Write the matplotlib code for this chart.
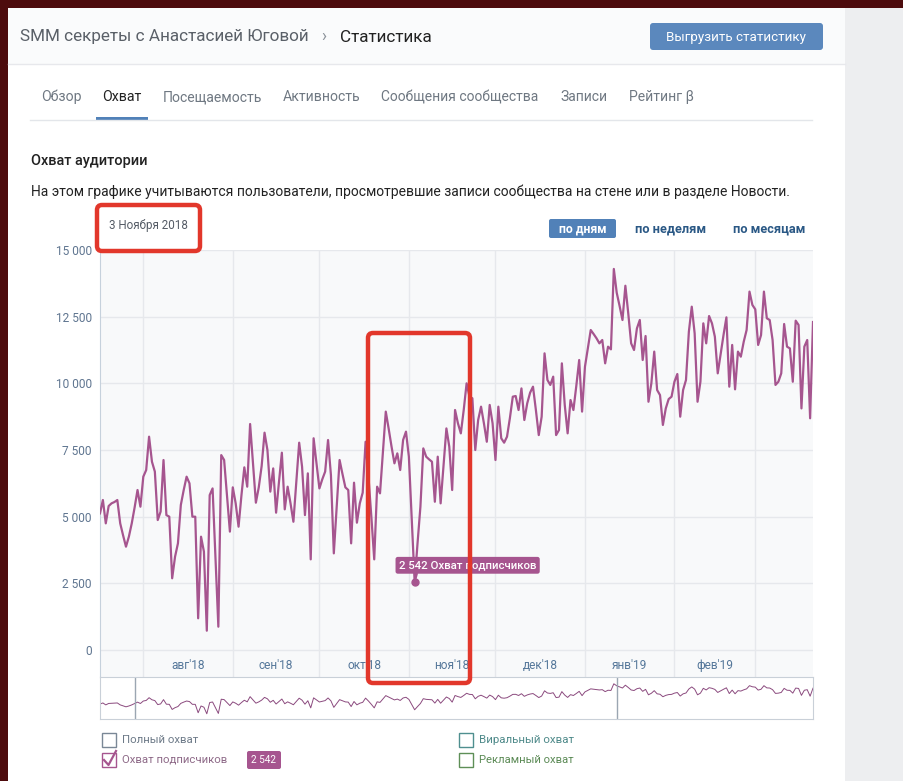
import pandas as pd
import matplotlib.pyplot as plt
from matplotlib.patches import Rectangle, FancyBboxPatch

plt.rcParams['font.family'] = ['Roboto', 'DejaVu Sans']

# охват подписчиков по дням, с 17.07.2018
start = '2018-07-17'
reach = [5125, 5625, 4750, 5400, 5500, 5550, 5625, 4750, 4300, 3875,
         4250, 4750, 5350, 6000, 5375, 6500, 6750, 8000, 7060, 6690,
         4875, 5190, 7125, 5060, 5000, 2690, 3500, 4000, 5440, 6000,
         6500, 6250, 5000, 5000, 1190, 4250, 3690, 725, 5810, 6060,
         3500, 875, 7310, 7125, 5800, 4440, 6100, 5500, 4625, 5800,
         6850, 6125, 8475, 7000, 5525, 6100, 6900, 8150, 7500, 5940,
         6810, 5150, 6300, 7400, 5275, 6125, 5500, 4810, 6300, 7775,
         6875, 5060, 6625, 3400, 7940, 7000, 6060, 6400, 6690, 7875,
         6560, 3625, 5400, 7125, 6600, 6100, 6000, 4000, 6275, 4775,
         5500, 5900, 7810, 6500, 5000, 3400, 6125, 5875, 7400, 8940,
         8300, 7625, 7000, 7375, 6750, 7875, 8190, 7250, 4900, 2542,
         4000, 5375, 7560, 7250, 7150, 7060, 5560, 7250, 5500, 6900,
         8310, 7625, 6000, 9000, 8500, 8125, 9000, 10000, 9500, 9440,
         7500, 8625, 9125, 8500, 7810, 9190, 8500, 7125, 9125, 7940,
         7775, 8000, 8700, 9500, 9525, 9000, 9810, 8625, 9250, 9650,
         9875, 9000, 8060, 8750, 11125, 10125, 9940, 10250, 8060, 8250,
         10750, 9190, 8125, 9375, 9000, 9900, 10875, 8940, 10625, 11300,
         12000, 11850, 11690, 11500, 11625, 10750, 11375, 11275, 14290, 13400,
         12900, 12375, 13660, 12625, 11500, 11250, 12060, 12375, 10875, 11775,
         9310, 10000, 11190, 9750, 9560, 8440, 9060, 9410, 9500, 10060,
         10350, 8750, 9750, 10125, 11940, 12875, 11875, 9310, 10060, 12250,
         11500, 12525, 12250, 11750, 10375, 11100, 11810, 12475, 9875, 11440,
         9775, 11190, 11000, 11560, 12000, 13440, 12940, 12775, 11440, 11810,
         13440, 12440, 12375, 11625, 9940, 10060, 10375, 12225, 11375, 11310,
         10060, 12350, 12190, 9060, 11375, 11625, 8690, 12300]
days = pd.date_range(start, periods=len(reach), freq='D')

y_ticks = [0, 2500, 5000, 7500, 10000, 12500, 15000]
y_labels = ['0', '2 500', '5 000', '7 500', '10 000', '12 500', '15 000']
month_starts = pd.date_range('2018-08-01', '2019-03-01', freq='MS')
month_labels = ["авг'18", "сен'18", "окт'18", "ноя'18", "дек'18", "янв'19", "фев'19"]
tabs = ['Обзор', 'Охват', 'Посещаемость', 'Активность', 'Сообщения сообщества', 'Записи', 'Рейтинг β']
legend_items = ['Полный охват', 'Охват подписчиков', 'Виральный охват', 'Рекламный охват']
marked_day = pd.Timestamp('2018-11-03')
window = (pd.Timestamp('2018-07-29'), pd.Timestamp('2019-01-12'))

purple = '#a6558f'
W, H = 904, 781
fig = plt.figure(figsize=(W / 100, H / 100), dpi=100, facecolor='#4d0b0d')
rend = fig.canvas.get_renderer()


def box(l, t, w, h):
    return [l / W, 1 - (t + h) / H, w / W, h / H]


page = fig.add_axes([0, 0, 1, 1])
page.set_xlim(0, W)
page.set_ylim(H, 0)
page.axis('off')


def txt(x, y, s, w, ha='left', **kw):
    t = page.text(x, y, s, ha=ha, va='center', fontsize=10, **kw)
    t.set_fontsize(10 * w / t.get_window_extent(rend).width)
    return t


# фон страницы
page.add_patch(Rectangle((8, 8), 837, 773, fc='white', lw=0))
page.add_patch(Rectangle((8, 8), 837, 56, fc='#fafbfc', lw=0))
page.plot([8, 845], [64, 64], color='#e7e8ec', lw=1)
page.add_patch(Rectangle((845, 8), 59, 773, fc='#edeef0', lw=0))

# шапка
txt(20, 37, 'SMM секреты с Анастасией Юговой', 290, color='#5a6068')
page.text(321, 37, '›', ha='left', va='center', fontsize=12, color='#8a9199')
txt(340, 37, 'Статистика', 92, color='#222222')
page.add_patch(FancyBboxPatch((650, 23), 173, 27, boxstyle='round,pad=0,rounding_size=3',
                              fc='#5b88bd', lw=0))
txt(736.5, 37, 'Выгрузить статистику', 140, ha='center', color='white')

# вкладки
tab_x = [41, 102, 163, 283, 381, 560, 629]
tab_w = [40, 39, 99, 77, 157, 47, 65]
for s, x, w in zip(tabs, tab_x, tab_w):
    txt(x, 97, s, w, color='#222222' if s == 'Охват' else '#6f7882')
page.plot([30, 812], [119.5, 119.5], color='#e3e6ea', lw=1)
page.add_patch(Rectangle((96, 117), 52, 2.5, fc='#5181b8', lw=0))

txt(31, 161, 'Охват аудитории', 117, color='#222222', weight='medium')
txt(31, 192, 'На этом графике учитываются пользователи, просмотревшие записи сообщества '
    'на стене или в разделе Новости.', 758, color='#222222')
txt(109, 226, '3 Ноября 2018', 79, color='#555c66')

page.add_patch(FancyBboxPatch((549, 219), 67, 19, boxstyle='round,pad=0,rounding_size=2',
                              fc='#5181b8', lw=0))
txt(582.5, 229, 'по дням', 48, ha='center', color='white', weight='bold')
txt(670.5, 229, 'по неделям', 71, ha='center', color='#2a5885', weight='bold')
txt(769, 229, 'по месяцам', 72, ha='center', color='#2a5885', weight='bold')

# основной график
ax = fig.add_axes(box(100, 250, 713, 426.7))
ax.set_facecolor('#f8f9fa')
ax.plot(days, reach, color=purple, lw=1.6, zorder=3)
ax.set_xlim(days[0], days[-1])
ax.set_ylim(-1000, 15000)
ax.set_yticks(y_ticks, y_labels)
ax.set_xticks(month_starts, [''] * len(month_starts))
mids = month_starts[:-1] + (month_starts[1:] - month_starts[:-1]) / 2
ax.set_xticks(mids, month_labels, minor=True)
ax.grid(axis='y', color='#e6e8ec', lw=1)
ax.grid(axis='x', which='major', color='#e6e8ec', lw=1)
for side in ['top', 'right', 'bottom']:
    ax.spines[side].set_visible(False)
ax.spines['left'].set_color('#c6d1dc')
ax.tick_params(axis='y', length=0, pad=6, labelcolor='#5f7590', labelsize=8.6)
ax.tick_params(axis='x', which='both', length=0)
ax.tick_params(axis='x', which='minor', pad=-12.5, labelcolor='#55779a', labelsize=8.6)

i = days.get_loc(marked_day)
ax.plot(marked_day, reach[i], 'o', color=purple, ms=5, zorder=5)
ax.annotate(f'{reach[i]:,}'.replace(',', ' ') + ' Охват подписчиков',
            xy=(marked_day, reach[i]), xytext=(-11.3, 12.2), textcoords='offset points',
            ha='left', va='center', color='white', fontsize=8.2, weight='medium', zorder=6,
            bbox=dict(boxstyle='round,pad=0.3,rounding_size=0.2', fc=purple, ec='none'),
            arrowprops=dict(arrowstyle='-', color=purple, lw=1.5, shrinkA=0, shrinkB=0,
                            relpos=(0.137, 0)))

# навигатор
nav = fig.add_axes(box(100, 676.7, 713, 42))
nav.set_facecolor('white')
nav.plot(days, reach, color='#8b4a7e', lw=0.7)
nav.set_xlim(days[0], days[-1])
nav.set_ylim(-1500, 17500)
nav.axvspan(days[0], window[0], color='white', alpha=0.6, lw=0)
nav.axvspan(window[1], days[-1], color='white', alpha=0.6, lw=0)
for d in window:
    nav.axvline(d, color='#9ba6b2', lw=1)
nav.set_xticks([])
nav.set_yticks([])
for s in nav.spines.values():
    s.set_color('#c9d0d8')

# легенда
legend_pos = [(102, 733), (102, 753), (459, 733), (459, 753)]
legend_edge = ['#7a8796', purple, '#4f8f8f', '#5e8f57']
legend_text = ['#6d7a88', '#8e6a88', '#4f8a8a', '#5b8a55']
legend_w = [76, 105, 95, 95]
for s, (x, y), ec, tc, w in zip(legend_items, legend_pos, legend_edge, legend_text, legend_w):
    page.add_patch(Rectangle((x, y), 14, 14, fc='white', ec=ec, lw=1))
    txt(x + 20, y + 7, s, w, color=tc)
page.plot([104, 108.5, 116], [760, 765, 751], color=purple, lw=1.6)
page.add_patch(FancyBboxPatch((247, 751), 34, 18, boxstyle='round,pad=0,rounding_size=2',
                              fc=purple, lw=0))
txt(264, 760, f'{reach[i]:,}'.replace(',', ' '), 25, ha='center', color='white')

# красные рамки
top = fig.add_axes([0, 0, 1, 1], zorder=10)
top.set_xlim(0, W)
top.set_ylim(H, 0)
top.axis('off')
top.add_patch(FancyBboxPatch((97, 205), 103, 46, boxstyle='round,pad=0,rounding_size=5',
                             ec='#e2372b', fc='none', lw=3.2))
top.add_patch(FancyBboxPatch((368, 333), 102, 350, boxstyle='round,pad=0,rounding_size=5',
                             ec='#e2372b', fc='none', lw=3.2))

fig.savefig('out.png', dpi=100, facecolor=fig.get_facecolor())
